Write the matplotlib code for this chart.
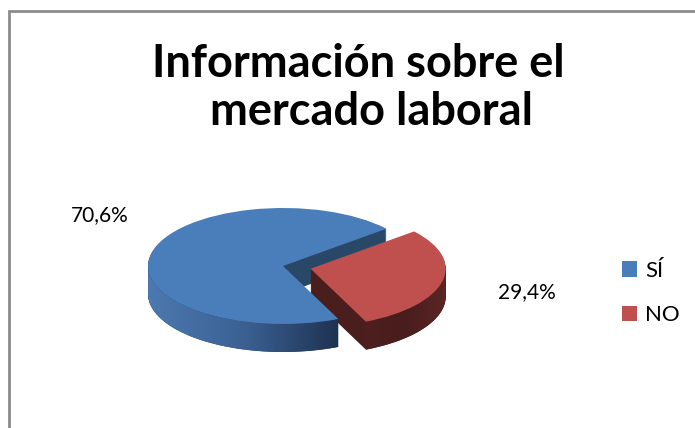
import numpy as np
import matplotlib
matplotlib.use('Agg')
import matplotlib.pyplot as plt
from matplotlib.patches import Polygon, Rectangle
from matplotlib.colors import LinearSegmentedColormap

plt.rcParams['font.family'] = ['Lato', 'DejaVu Sans']

# data
labels = ['SÍ', 'NO']
values = [70.6, 29.4]
top_colors = ['#4a7ebb', '#c0504d']
side_colors = ['#294767', '#4b1e1e']
front_grads = [['#4c79b0', '#3b6193', '#1e3251'], ['#4d1f1f', '#4a1d1d', '#5a2626']]
explode = [0, 0.21]
title_lines = ['Información sobre el', 'mercado laboral']

W, H = 695, 428
fig = plt.figure(figsize=(W / 100, H / 100), dpi=100)
ax = fig.add_axes([0, 0, 1, 1])

# pie geometry in pixels (y from top), flattened to fake a 3d look
cx, cy = 283, 266
rx, ry = 135, 58
depth = 28 / ry
start = 40

# side walls: stack of darker pies going down
n = 40
for k in range(n):
    off = depth * (1 - k / n)
    ws, _ = ax.pie(values, colors=side_colors, startangle=start, explode=explode,
                   center=(0, -off), wedgeprops=dict(linewidth=0))
    for w in ws:
        w.set_zorder(1)

# top faces
wedges, _ = ax.pie(values, colors=top_colors, startangle=start, explode=explode,
                   wedgeprops=dict(linewidth=0))
for w in wedges:
    w.set_zorder(3)

# shaded front walls
for w, cols in zip(wedges, front_grads):
    a = max(w.theta1, 180)
    b = min(w.theta2, 360)
    th = np.radians(np.linspace(a, b, 120))
    x0, y0 = w.center
    xs = x0 + w.r * np.cos(th)
    ys = y0 + w.r * np.sin(th)
    verts = np.r_[np.c_[xs, ys], np.c_[xs[::-1], ys[::-1] - depth]]
    poly = Polygon(verts, closed=True, facecolor='none', edgecolor='none')
    ax.add_patch(poly)
    cmap = LinearSegmentedColormap.from_list('side', cols)
    grad = np.linspace(0, 1, 256).reshape(1, -1)
    im = ax.imshow(grad, cmap=cmap, extent=(xs.min(), xs.max(), ys.min() - depth, ys.max()),
                   aspect='auto', zorder=2, interpolation='bilinear')
    im.set_clip_path(poly)

ax.set_aspect('auto')
ax.set_xlim((0 - cx) / rx, (W - cx) / rx)
ax.set_ylim((cy - H) / ry, cy / ry)
ax.axis('off')

# data labels
pct = [f'{v:.1f}%'.replace('.', ',') for v in values]
fig.text(100 / W, 1 - 215 / H, pct[0], ha='center', va='center', fontsize=15)
fig.text(527 / W, 1 - 292 / H, pct[1], ha='center', va='center', fontsize=15)

# title
fig.text(358 / W, 1 - 77 / H, title_lines[0], ha='center', va='baseline',
         fontsize=32.5, fontweight='bold')
fig.text(371 / W, 1 - 125 / H, title_lines[1], ha='center', va='baseline',
         fontsize=32.5, fontweight='bold')

# legend
fig.legend(wedges, labels, loc='center left', bbox_to_anchor=(622 / W, 1 - 293 / H),
           frameon=False, fontsize=16, handlelength=0.68, handleheight=0.68,
           handletextpad=0.35, labelspacing=1.1, borderpad=0, borderaxespad=0)

# chart border
fig.patches.append(Rectangle((9 / W, -0.1), 1.1, 1 - 11 / H + 0.1, transform=fig.transFigure,
                             fill=False, edgecolor='#8c8c8c', linewidth=2, figure=fig))

fig.savefig('out.png', dpi=100, facecolor='white')
